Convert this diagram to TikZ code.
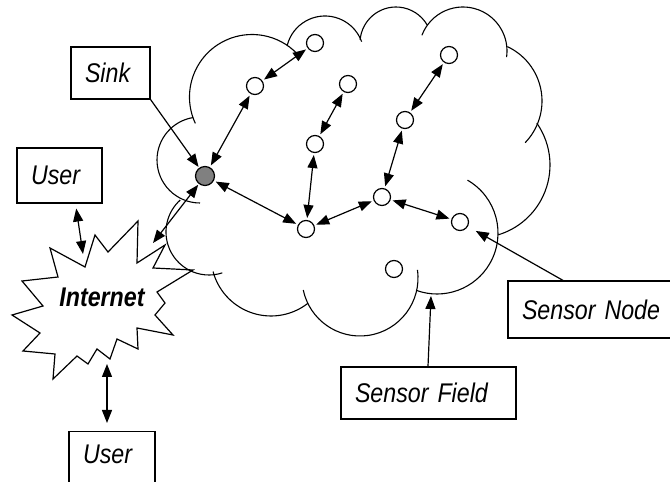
\documentclass[tikz,border=0pt]{standalone}
\usepackage{fontspec}
\newfontfamily\lblfont{Liberation Sans}[FakeStretch=0.86]
\newcommand{\lbltext}{\lblfont\itshape\fontsize{27pt}{31pt}\selectfont\fontdimen2\font=3.5pt\relax}
\usepackage{tikz}
\usetikzlibrary{arrows.meta}
\tikzstyle{sensor} = [circle, draw=black, fill=white, line width=1.2pt,
    minimum size=17pt, inner sep=0pt]
\tikzstyle{sinknode} = [sensor, fill=black!50, minimum size=19pt]
\tikzstyle{lblbox} = [draw=black, line width=1.2pt, rectangle, inner xsep=14pt,
    inner ysep=0pt, align=left, font=\lbltext]
\tikzstyle{link} = [{Triangle[length=13pt,width=10pt]}-{Triangle[length=13pt,width=10pt]},
    line width=1.2pt, shorten <=2pt, shorten >=2pt]
\tikzstyle{pointer} = [-{Triangle[length=13pt,width=10pt]}, line width=1.2pt]
\tikzstyle{cloudline} = [line width=1.1pt]

\begin{document}
\begin{tikzpicture}[x=1pt, y=1pt]
\useasboundingbox (0,0) rectangle (670,482);

% sensor field
\draw[cloudline] (200,322) ++(270:43) arc[start angle=270, end angle=99, radius=43];
\draw[cloudline] (252,385) ++(205:62.5) arc[start angle=205, end angle=44, radius=62.5];
\draw[cloudline] (325,427) ++(165:39) arc[start angle=165, end angle=20, radius=39];
\draw[cloudline] (396,439) ++(175:36) arc[start angle=175, end angle=30, radius=36];
\draw[cloudline] (463,431) ++(159:44) arc[start angle=159, end angle=-8, radius=44];
\draw[cloudline] (482,381) ++(65:60) arc[start angle=65, end angle=-44, radius=60];
\draw[cloudline] (477,317) ++(35:73) arc[start angle=35, end angle=-73, radius=73];
\draw[cloudline] (437,249) ++(60:61) arc[start angle=60, end angle=-110, radius=61];
\draw[cloudline] (360,204) ++(8:58) arc[start angle=8, end angle=-168, radius=58];
\draw[cloudline] (271,226) ++(-52:60) arc[start angle=-52, end angle=-165, radius=60];
\draw[cloudline] (209,250) ++(-72:43) arc[start angle=-72, end angle=-228, radius=43];

% internet
\draw[line width=1.2pt] (50,234) -- (85,215) -- (95,247) -- (108,230) -- (138,261)
    -- (137,219) -- (165,237) -- (153,214) -- (193,212) -- (157,190) -- (165,179)
    -- (155,167) -- (173,147) -- (137,154) -- (138,133) -- (117,143) -- (110,123)
    -- (97,133) -- (88,118) -- (77,126) -- (53,103) -- (55,128) -- (23,131)
    -- (40,149) -- (12,167) -- (43,176) -- (22,201) -- (58,205) -- cycle;
\node[font=\lblfont\bfseries\itshape\fontsize{27pt}{31pt}\selectfont] (inet) at (102,185) {Internet};
\coordinate (inetN) at (83,228);
\coordinate (inetE) at (153,239);
\coordinate (inetS) at (107,118);

% sensors
\node[sinknode] (sink) at (205,306) {};
\node[sensor] (n1) at (255,396) {};
\node[sensor] (n2) at (315,439) {};
\node[sensor] (n3) at (348,398) {};
\node[sensor] (n4) at (315,338) {};
\node[sensor] (n5) at (306,253) {};
\node[sensor] (n6) at (382,285) {};
\node[sensor] (n7) at (405,362) {};
\node[sensor] (n8) at (449,427) {};
\node[sensor] (n9) at (460,260) {};
\node[sensor] (n10) at (394,213) {};

\draw[link] (sink) -- (n1);
\draw[link] (n1) -- (n2);
\draw[link] (sink) -- (n5);
\draw[link] (n5) -- (n4);
\draw[link] (n4) -- (n3);
\draw[link] (n5) -- (n6);
\draw[link] (n6) -- (n7);
\draw[link] (n7) -- (n8);
\draw[link] (n6) -- (n9);

% labels
\node[lblbox, text width=51pt, minimum height=52pt] (sinklbl) at (110.5,409) {Sink};
\node[lblbox, text width=57pt, minimum height=55pt] (user1) at (59.5,306.5) {User};
\node[lblbox, text width=58pt, anchor=north, text height=32pt, text depth=30pt] (user2) at (112,51) {User};
\node[lblbox, text width=140pt, minimum height=57pt] (nodelbl) at (592,172.5) {Sensor Node};
\node[lblbox, text width=147pt, minimum height=52pt] (fieldlbl) at (428.5,89) {Sensor Field};
\coordinate (fieldtip) at (431,186);

\draw[link, shorten <=5pt, shorten >=0pt] ([xshift=16pt]user1.south) -- (inetN);
\draw[link, shorten <=0pt, shorten >=1pt] (inetE) -- (sink);
\draw[link, shorten <=0pt, shorten >=8pt] (inetS) -- ([xshift=-5pt]user2.north);
\draw[pointer, shorten >=1pt] (sinklbl.south east) -- (sink);
\draw[pointer, shorten >=9pt] ([xshift=-29pt]nodelbl.north) -- (n9);
\draw[pointer] ([xshift=-0.5pt]fieldlbl.north) -- (fieldtip);
\end{tikzpicture}
\end{document}
